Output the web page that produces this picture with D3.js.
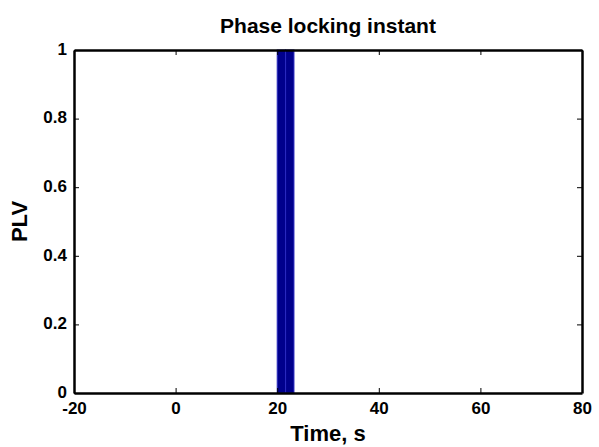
<!DOCTYPE html>
<html>
<head>
<meta charset="utf-8">
<script src="https://cdn.jsdelivr.net/npm/d3@7"></script>
<style>
  body { margin: 0; background: #fff; }
  text { font-family: "Liberation Sans", Arial, sans-serif; font-weight: bold; }
</style>
</head>
<body>
<div id="chart"></div>
<script>
// locking instants (left edge of each bin, s) and PLV per bin
const binStarts = [20.0, 21.65];
const binWidth = 1.65;
const plvValues = [1, 1];
const xTicks = [-20, 0, 20, 40, 60, 80];
const yTicks = [0, 0.2, 0.4, 0.6, 0.8, 1];

const width = 599, height = 447;
const margin = {top: 50, right: 17, bottom: 54, left: 74};

const svg = d3.select("#chart").append("svg")
    .attr("width", width)
    .attr("height", height);

const xScale = d3.scaleLinear().domain([-20, 80]).range([margin.left, width - margin.right]);
const yScale = d3.scaleLinear().domain([0, 1]).range([height - margin.bottom, margin.top]);

// bars
svg.selectAll("rect.bin").data(binStarts).enter().append("rect")
    .attr("class", "bin")
    .attr("x", d => xScale(d))
    .attr("width", xScale(binWidth) - xScale(0))
    .attr("y", (d, i) => yScale(plvValues[i]))
    .attr("height", (d, i) => yScale(0) - yScale(plvValues[i]))
    .attr("fill", "#00008c")
    .attr("stroke", "#2b2bc0")
    .attr("stroke-width", 1);

// axes, ticks pointing inward like matlab
let xAxis = svg.append("g")
    .attr("transform", "translate(0," + yScale(0) + ")")
    .call(d3.axisBottom(xScale).tickValues(xTicks).tickSizeInner(-5).tickSizeOuter(0).tickPadding(11).tickFormat(d => String(d)));
let xTop = svg.append("g")
    .attr("transform", "translate(0," + yScale(1) + ")")
    .call(d3.axisTop(xScale).tickValues(xTicks).tickSizeInner(-5).tickSizeOuter(0).tickFormat(""));
let yAxis = svg.append("g")
    .attr("transform", "translate(" + xScale(-20) + ",0)")
    .call(d3.axisLeft(yScale).tickValues(yTicks).tickSizeInner(-5).tickSizeOuter(0).tickPadding(7).tickFormat(d => String(d)));
let yRight = svg.append("g")
    .attr("transform", "translate(" + xScale(80) + ",0)")
    .call(d3.axisRight(yScale).tickValues(yTicks).tickSizeInner(-5).tickSizeOuter(0).tickFormat(""));

svg.selectAll(".domain").attr("stroke", "#000").attr("stroke-width", 2.5);
svg.selectAll(".tick line").attr("stroke", "#000").attr("stroke-width", 1);
svg.selectAll(".tick text").attr("font-size", 17).attr("font-weight", "bold")
    .attr("font-family", "Liberation Sans, Arial, sans-serif").attr("fill", "#000");

// corner labels nearly touch in the original
xAxis.selectAll(".tick text").attr("dy", "0.6em");
yAxis.selectAll(".tick text").attr("dy", "0.25em");

// labels
svg.append("text")
    .attr("x", (xScale(-20) + xScale(80)) / 2)
    .attr("y", 33)
    .attr("text-anchor", "middle")
    .attr("font-size", 21)
    .text("Phase locking instant");

svg.append("text")
    .attr("x", (xScale(-20) + xScale(80)) / 2)
    .attr("y", 441)
    .attr("text-anchor", "middle")
    .attr("font-size", 22)
    .text("Time, s");

svg.append("text")
    .attr("transform", "translate(27," + (yScale(0.5)) + ") rotate(-90)")
    .attr("text-anchor", "middle")
    .attr("font-size", 22)
    .text("PLV");
</script>
</body>
</html>
